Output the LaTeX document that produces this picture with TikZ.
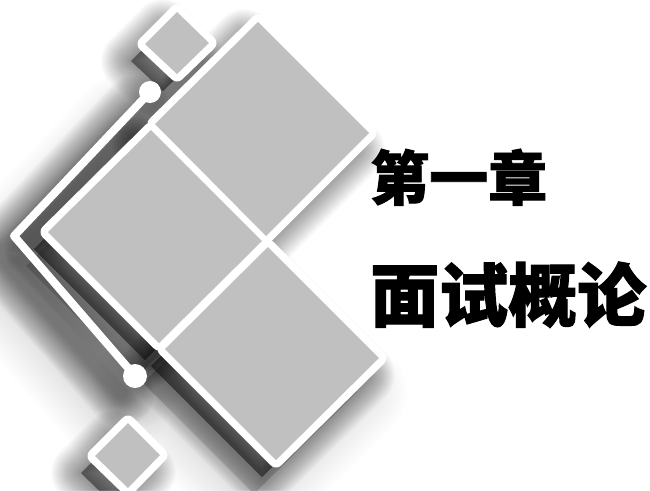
\documentclass[tikz,border=0pt]{standalone}
\usepackage{fontspec}
\newfontfamily\cjk{Noto Sans CJK SC}[BoldFeatures={FakeBold=1.5}]
\definecolor{fillgray}{RGB}{192,192,192}
\begin{document}
\begin{tikzpicture}[x=1pt,y=-1pt,
  shadowlayer/.style={black, fill=black, opacity=0.014, line join=round, line cap=round},
  softlayer/.style={black, fill=black, opacity=0.006, line join=round, line cap=round},
  frame/.style={draw=white, fill=white, line width=15pt, line join=round},
  tile/.style={fill=fillgray, draw=none},
  wline/.style={draw=white, line width=8pt, line join=round, line cap=round},
  title/.style={anchor=base west, inner sep=0pt, text=black}]
\useasboundingbox[fill=white] (0,0) rectangle (650,490);
\def\Done{(258,22) -- (369,133) -- (266,236) -- (155,124) -- cycle}
\def\Dtwo{(151,130) -- (262,241) -- (159,343) -- (48,232) -- cycle}
\def\Dthree{(268,247) -- (379,358) -- (276,460) -- (165,349) -- cycle}
\def\Stop{(177,12) -- (209,43) -- (177,74) -- (145,44) -- cycle}
\def\Sbot{(128,423) -- (160,455) -- (128,488) -- (95,456) -- cycle}
\def\Vline{(150,92) -- (14,236) -- (135,376)}
% broad soft shadow
\begin{scope}[shift={(-22,34)}]
  \foreach \w in {100,94,...,10} {
    \draw[softlayer, line width=\w pt] \Dtwo;
    \draw[softlayer, line width=\w pt] \Dthree;
    \draw[softlayer, fill=none, line width=\w pt+8pt] \Vline;
  }
\end{scope}
% close shadow
\begin{scope}[shift={(-14,17)}]
  \foreach \w in {60,58,...,4} {
    \draw[shadowlayer, line width=\w pt] \Done;
    \draw[shadowlayer, line width=\w pt] \Dtwo;
    \draw[shadowlayer, line width=\w pt] \Dthree;
    \draw[shadowlayer, line width=\w pt] \Stop;
    \draw[shadowlayer, line width=\w pt] \Sbot;
    \draw[shadowlayer, fill=none, line width=\w pt+8pt] \Vline;
  }
\end{scope}
% white frames and lines
\draw[wline] \Vline;
\fill[white] (150,92) circle (11);
\fill[white] (135,376) circle (12);
\draw[frame] \Done;
\draw[frame] \Dtwo;
\draw[frame] \Dthree;
\draw[frame] \Stop;
\draw[frame] \Sbot;
% tiles
\fill[tile] \Done;
\fill[tile] \Dtwo;
\fill[tile] \Dthree;
\fill[tile] \Stop;
\fill[tile] \Sbot;
% titles
\node[title] (chap) at (370,200) {\cjk\bfseries\fontsize{59}{59}\selectfont 第一章};
\node[title] (name) at (370,321) {\cjk\bfseries\fontsize{69}{69}\selectfont 面试概论};
\end{tikzpicture}
\end{document}
